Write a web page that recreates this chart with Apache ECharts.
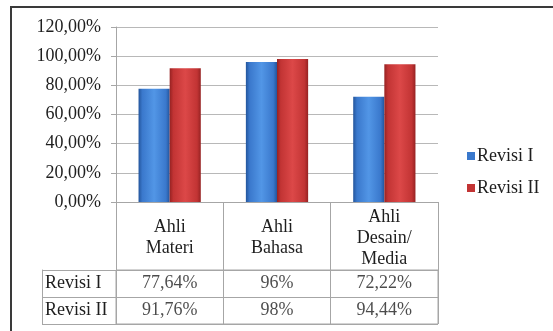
<!DOCTYPE html>
<html>
<head>
<meta charset="utf-8">
<script src="https://cdn.jsdelivr.net/npm/echarts@6/dist/echarts.min.js"></script>
<style>
html,body{margin:0;padding:0;background:#fff;overflow:hidden;}
#chart{position:absolute;left:0;top:0;width:553px;height:331px;}
#frame{position:absolute;left:10px;top:6px;width:700px;height:500px;border:2px solid #3a3a3a;pointer-events:none;}
</style>
</head>
<body>
<div id="chart"></div>
<div id="frame"></div>
<script>
const categories = ['Ahli\nMateri', 'Ahli\nBahasa', 'Ahli\nDesain/\nMedia'];
const seriesNames = ['Revisi I', 'Revisi II'];
const revisi1 = [77.64, 96, 72.22];
const revisi2 = [91.76, 98, 94.44];
const yTicks = { min: 0, max: 120, interval: 20 };

const font = '"Liberation Serif", "Times New Roman", serif';
const txt = '#1e1e1e';
const lineC = '#a6a6a6';

function fmt(v, fixed) {
  const s = fixed ? v.toFixed(2) : String(v);
  return s.replace('.', ',') + '%';
}
function grad(dark, mid, light) {
  return new echarts.graphic.LinearGradient(0, 0, 1, 0, [
    {offset: 0, color: dark}, {offset: 0.12, color: mid},
    {offset: 0.5, color: light}, {offset: 0.88, color: mid},
    {offset: 1, color: dark}
  ]);
}
const blue = grad('#23559c', '#3a78cc', '#5296e6');
const red = grad('#962222', '#c23434', '#dc4848');

const tableData = [];
[revisi1, revisi2].forEach((arr, r) => {
  arr.forEach((v, c) => tableData.push([c, r, v]));
});

const chart = echarts.init(document.getElementById('chart'));
chart.setOption({
  animation: false,
  textStyle: { fontFamily: font },
  grid: [
    { left: 116, right: 115, top: 27, bottom: 129 },
    { left: 116, right: 115, top: 270, bottom: 7, show: true, borderColor: lineC, borderWidth: 1, backgroundColor: 'transparent' }
  ],
  legend: {
    orient: 'vertical', left: 467, top: 147, padding: 0,
    itemWidth: 8, itemHeight: 8, itemGap: 14, icon: 'rect',
    textStyle: { fontFamily: font, fontSize: 18, color: txt, padding: [0, 0, 0, -3] },
    data: [
      { name: seriesNames[0], itemStyle: { color: '#3a78cc' } },
      { name: seriesNames[1], itemStyle: { color: '#c23434' } }
    ]
  },
  xAxis: [
    {
      type: 'category', gridIndex: 0, data: categories,
      axisLine: { lineStyle: { color: lineC } },
      axisTick: { show: true, length: 122, interval: 0, lineStyle: { color: lineC } },
      axisLabel: { interval: 0, margin: 36, verticalAlign: 'middle', lineHeight: 21, fontSize: 18, color: txt, fontFamily: font }
    },
    {
      type: 'category', gridIndex: 1, data: categories,
      axisLine: { show: false }, axisTick: { show: false }, axisLabel: { show: false },
      splitLine: { show: true, interval: 0, lineStyle: { color: lineC } }
    }
  ],
  yAxis: [
    {
      type: 'value', gridIndex: 0, min: yTicks.min, max: yTicks.max, interval: yTicks.interval,
      axisLine: { show: true, lineStyle: { color: lineC } },
      axisTick: { show: true, length: 5, lineStyle: { color: lineC } },
      splitLine: { lineStyle: { color: '#b8b8b8' } },
      axisLabel: { margin: 15, fontSize: 18, color: txt, fontFamily: font, formatter: v => fmt(v, true) }
    },
    {
      type: 'category', gridIndex: 1, data: seriesNames, inverse: true,
      axisLine: { show: true, lineStyle: { color: lineC } },
      axisTick: { show: true, length: 74, interval: 0, lineStyle: { color: lineC } },
      splitLine: { show: true, interval: 0, lineStyle: { color: lineC } },
      axisLabel: { align: 'left', margin: 71, fontSize: 18, color: txt, fontFamily: font }
    },
    {
      type: 'category', gridIndex: 1, data: seriesNames, inverse: true, position: 'left', offset: 74,
      axisLine: { show: true, lineStyle: { color: lineC } },
      axisTick: { show: false }, axisLabel: { show: false }, splitLine: { show: false }
    }
  ],
  series: [
    { name: seriesNames[0], type: 'bar', xAxisIndex: 0, yAxisIndex: 0, data: revisi1,
      barGap: '0%', barCategoryGap: '42%', itemStyle: { color: blue } },
    { name: seriesNames[1], type: 'bar', xAxisIndex: 0, yAxisIndex: 0, data: revisi2,
      barGap: '0%', barCategoryGap: '42%', itemStyle: { color: red } },
    { name: 'table', type: 'scatter', xAxisIndex: 1, yAxisIndex: 1, symbolSize: 0,
      data: tableData,
      label: { show: true, position: 'inside', fontSize: 18, color: txt, fontFamily: font,
        formatter: p => fmt(p.value[2], false) } }
  ]
});
</script>
</body>
</html>
